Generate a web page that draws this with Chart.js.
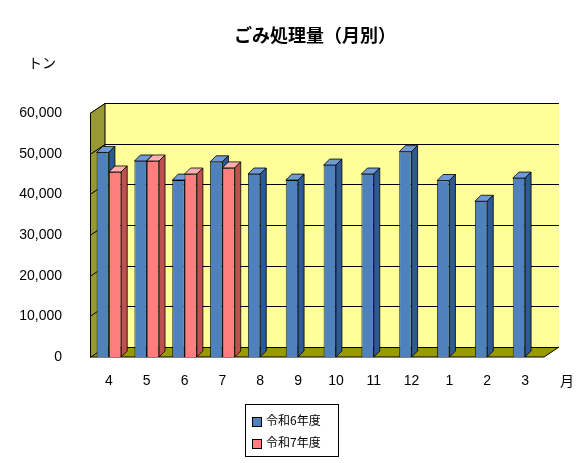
<!DOCTYPE html>
<html><head><meta charset="utf-8">
<script src="https://cdn.jsdelivr.net/npm/chart.js@4"></script>
<style>
body{margin:0;background:#fff;font-family:"Noto Sans CJK JP",sans-serif}
#wrap{position:relative;width:584px;height:463px}
#legend{position:absolute;left:245px;top:404px;width:94px;height:53px;border:1px solid #000;font-size:12px;box-sizing:border-box;padding:4px 0 0 6px;line-height:22px}
.sw{display:inline-block;width:8px;height:8px;border:1px solid #000;margin-right:4px;vertical-align:middle}
</style></head><body>
<div id="wrap"><canvas id="c" width="584" height="463"></canvas>
<div id="legend"><div><span class="sw" style="background:#4F81BD"></span>令和6年度</div><div><span class="sw" style="background:#FF7F7F"></span>令和7年度</div></div></div>
<script>
const months=["4","5","6","7","8","9","10","11","12","1","2","3"];
const r6=[50300,48200,43500,48000,45000,43500,47200,45000,50500,43400,38300,44000];
const r7=[45500,48200,45000,46500,null,null,null,null,null,null,null,null];
const yTicks=[0,10000,20000,30000,40000,50000,60000];
const DX=15,DY=-10,BD=6;
const deco={id:'deco',
beforeDatasetsDraw(ch){const c=ch.ctx,a=ch.chartArea,y=ch.scales.y;
 c.save();
 c.fillStyle='#FFFF99';c.fillRect(a.left+DX,a.top+DY,a.right-a.left,a.bottom-a.top);
 c.fillStyle='#999933';c.beginPath();c.moveTo(a.left,a.top);c.lineTo(a.left+DX,a.top+DY);c.lineTo(a.left+DX,a.bottom+DY);c.lineTo(a.left,a.bottom);c.closePath();c.fill();
 c.fillStyle='#999900';c.beginPath();c.moveTo(a.left,a.bottom);c.lineTo(a.left+DX,a.bottom+DY);c.lineTo(a.right+DX,a.bottom+DY);c.lineTo(a.right,a.bottom);c.closePath();c.fill();
 c.strokeStyle='#000';c.lineWidth=1;
 yTicks.forEach(v=>{const p=Math.round(y.getPixelForValue(v))+0.5;c.beginPath();c.moveTo(a.left,p);c.lineTo(a.left+DX,p+DY);c.lineTo(a.right+DX,p+DY);c.stroke();});
 c.beginPath();c.moveTo(a.left+DX,a.top+DY);c.lineTo(a.left+DX,a.bottom+DY);c.stroke();
 c.beginPath();c.moveTo(a.left+0.5,a.top);c.lineTo(a.left+0.5,a.bottom);c.lineTo(a.right,a.bottom);c.lineTo(a.right+DX,a.bottom+DY);c.stroke();
 c.lineWidth=0.8;
 const cols=[['#6F9AD6','#2E5A94'],['#FFB0B0','#C05050']];
 ch.data.datasets.forEach((ds,i)=>{ch.getDatasetMeta(i).data.forEach((b,j)=>{if(ds.data[j]==null)return;
  const l=b.x-b.width/2,r=b.x+b.width/2,t=b.y,bt=b.base;
  c.fillStyle=cols[i][0];c.beginPath();c.moveTo(l,t);c.lineTo(l+BD,t-BD);c.lineTo(r+BD,t-BD);c.lineTo(r,t);c.closePath();c.fill();c.stroke();
  c.fillStyle=cols[i][1];c.beginPath();c.moveTo(r,t);c.lineTo(r+BD,t-BD);c.lineTo(r+BD,bt-BD);c.lineTo(r,bt);c.closePath();c.fill();c.stroke();});});
 c.restore();},
afterDatasetsDraw(ch){const c=ch.ctx;c.save();
 c.fillStyle='#000';c.font='bold 18px "Noto Sans CJK JP"';c.textAlign='center';c.fillText('ごみ処理量（月別）',315,42);
 c.font='14px "Noto Sans CJK JP"';c.textAlign='left';c.fillText('トン',28,68);c.fillText('月',560,386);
 c.restore();}};
new Chart(document.getElementById('c'),{type:'bar',
data:{labels:months,datasets:[
 {label:'令和6年度',data:r6,backgroundColor:'#4F81BD',borderColor:'#000',borderWidth:0.8},
 {label:'令和7年度',data:r7,backgroundColor:'#FF7F7F',borderColor:'#000',borderWidth:0.8}]},
options:{responsive:false,animation:false,devicePixelRatio:1,
 layout:{padding:{left:0,right:40,top:113,bottom:76}},
 plugins:{legend:{display:false},tooltip:{enabled:false}},
 datasets:{bar:{categoryPercentage:0.65,barPercentage:1,skipNull:false}},
 scales:{
  x:{grid:{display:false},border:{display:false},ticks:{color:'#000',font:{size:14,family:'Arial'},padding:8},afterFit(a){a.height=30;}},
  y:{min:0,max:60000,grid:{display:false},border:{display:false},afterBuildTicks(a){a.ticks=yTicks.map(v=>({value:v}));},
   ticks:{color:'#000',font:{size:14,family:'Arial'},padding:20,callback:v=>v.toLocaleString('en-US')},afterFit(a){a.width=90;}}}},
plugins:[deco]});
</script></body></html>
